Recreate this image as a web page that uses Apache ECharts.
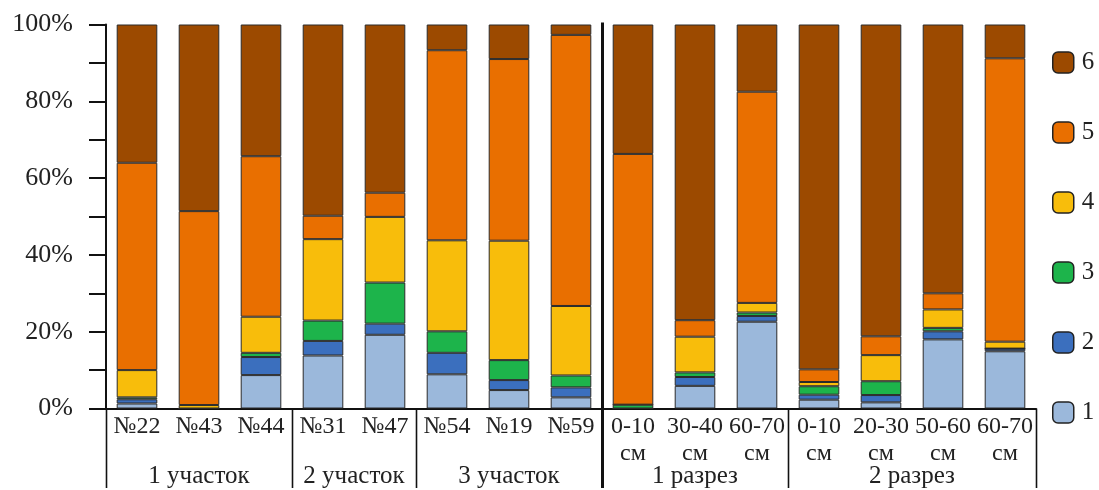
<!DOCTYPE html>
<html>
<head>
<meta charset="utf-8">
<script src="https://cdn.jsdelivr.net/npm/echarts@6/dist/echarts.min.js"></script>
<style>
html,body{margin:0;padding:0;background:#fff;}
#c{width:1099px;height:490px;}
</style>
</head>
<body>
<div id="c"></div>
<script>
var categories = ['№22','№43','№44','№31','№47','№54','№19','№59',
  '0-10\nсм','30-40\nсм','60-70\nсм','0-10\nсм','20-30\nсм','50-60\nсм','60-70\nсм'];
var groups = ['1 участок','2 участок','3 участок','1 разрез','2 разрез'];
var groupSizes = [3, 2, 3, 3, 4];
var seriesNames = ['1','2','3','4','5','6'];
var s1 = [1.3, 0,   8.7, 13.8, 19.2, 8.9, 4.8, 2.9, 0,    5.9, 22.6, 2.3, 1.6, 18.0, 14.9];
var s2 = [1.1, 0,   4.7, 3.8,  2.9,  5.6, 2.6, 2.6, 0,    2.3, 1.5,  1.3, 1.9, 2.1,  0.7];
var s3 = [0.5, 0,   1.1, 5.3,  10.7, 5.6, 5.2, 3.1, 1.0,  1.2, 0.9,  2.2, 3.6, 0.9,  0];
var s4 = [7.1, 0.9, 9.4, 21.2, 17.1, 23.7,31.1,18.1,0,    9.3, 2.5,  1.1, 6.8, 4.8,  1.8];
var s5 = [54.0,50.5,41.8,6.1,  6.3,  49.5,47.3,70.6,65.3, 4.3, 55.0, 3.3, 4.9, 4.2,  73.8];
var s6 = [36.0,48.6,34.3,49.8, 43.8, 6.7, 9.0, 2.7, 33.7, 77.0,17.5, 89.8,81.2,70.0, 8.8];
var yTicks = [0, 20, 40, 60, 80, 100];

var colors = ['#9bb8db','#3b6fbe','#1db44b','#f8bd0b','#e96f00','#9c4a00'];
var FONT = '"Liberation Serif", "Times New Roman", serif';
var allData = [s1,s2,s3,s4,s5,s6];

var chart = echarts.init(document.getElementById('c'), null, {renderer:'canvas'});
var series = allData.map(function(d, i){
  return {
    name: seriesNames[i], type:'bar', stack:'total', data:d,
    barWidth: 40.6,
    itemStyle:{color:colors[i], borderColor:'#2b2b2b', borderWidth:1},
    emphasis:{disabled:true}, animation:false
  };
});
chart.setOption({
  animation:false,
  grid:{left:106, top:24.5, width:930, height:384, containLabel:false},
  legend:{
    orient:'vertical', left:1052, top:50, padding:0,
    data: seriesNames.slice().reverse(),
    itemWidth:21, itemHeight:21, itemGap:45,
    itemStyle:{borderColor:'#222', borderWidth:1.5},
    textStyle:{fontFamily:FONT, fontSize:25, lineHeight:21, color:'#222', padding:[0,0,0,3]},
    selectedMode:false
  },
  xAxis:{
    type:'category', data:categories,
    axisLine:{lineStyle:{color:'#111', width:2}},
    axisTick:{show:false},
    axisLabel:{
      interval:0, margin:5, fontFamily:FONT, fontSize:24, color:'#222', lineHeight:27
    }
  },
  yAxis:{
    type:'value', min:0, max:100, interval:10,
    axisLine:{show:true, lineStyle:{color:'#111', width:2}},
    axisTick:{show:true, length:17, lineStyle:{color:'#111', width:2}},
    splitLine:{show:false},
    axisLabel:{
      margin:33, fontFamily:FONT, fontSize:26, color:'#222',
      formatter:function(v){ return yTicks.indexOf(v)>=0 ? v+'%' : ''; }
    }
  },
  series:series
});

// group separators and labels, positioned through the chart's own scale
var x0 = chart.convertToPixel({xAxisIndex:0}, 0);
var x1 = chart.convertToPixel({xAxisIndex:0}, 1);
var band = x1 - x0;
var yBottom = chart.convertToPixel({yAxisIndex:0}, 0);
var yTop = chart.convertToPixel({yAxisIndex:0}, 100);
function boundary(idx){ return x0 - band/2 + idx*band; }
var graphics = [];
var start = 0;
var bounds = [0];
groupSizes.forEach(function(n){ start += n; bounds.push(start); });
bounds.forEach(function(b){
  var x = Math.round(boundary(b)) + 0.5;
  var thick = (b === 8);
  graphics.push({
    type:'line', silent:true,
    shape:{x1:x, y1: thick ? yTop - 2 : yBottom, x2:x, y2:488},
    style:{stroke:'#111', lineWidth: thick ? 3 : 1.6}
  });
});
for (var g = 0; g < groups.length; g++) {
  var cx = (boundary(bounds[g]) + boundary(bounds[g+1])) / 2;
  graphics.push({
    type:'text', silent:true, x:cx, y:476,
    style:{text:groups[g], fontFamily:FONT, fontSize:25, fill:'#222', align:'center', verticalAlign:'middle'}
  });
}
chart.setOption({graphic:graphics});
</script>
</body>
</html>
